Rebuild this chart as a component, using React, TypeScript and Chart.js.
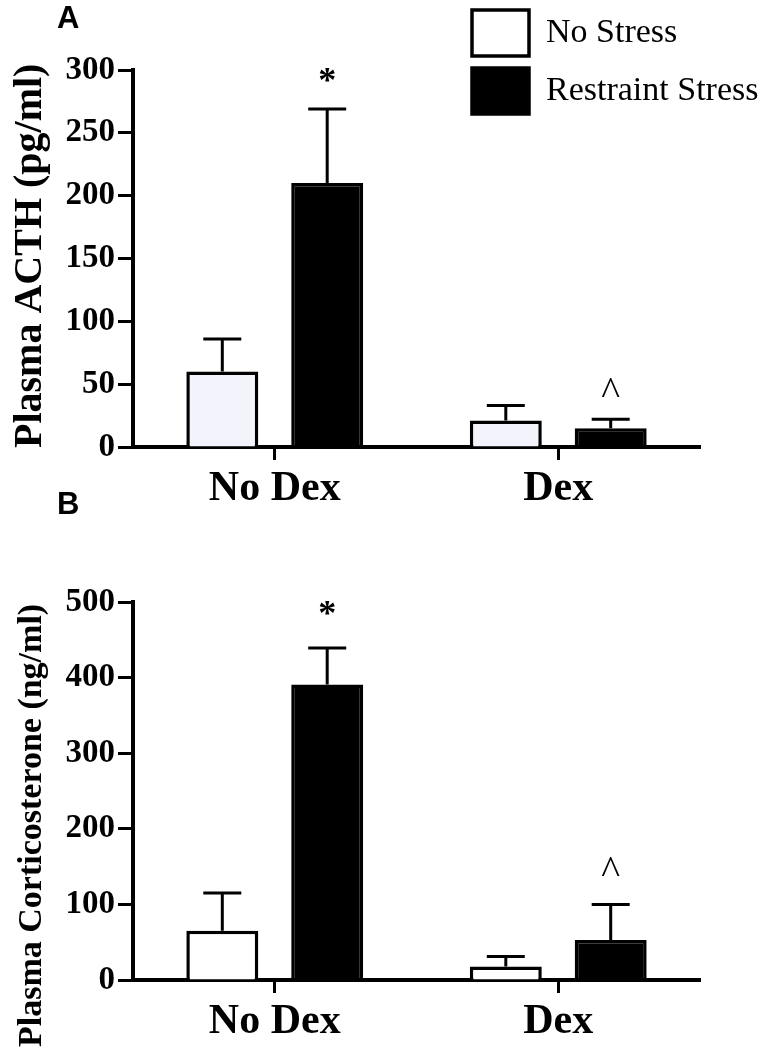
import { useEffect, useRef } from 'react';
import { Chart, registerables } from 'chart.js';

Chart.register(...registerables);

const SERIF = "'Liberation Serif', 'Times New Roman', serif";
const SANS = "'Liberation Sans', Arial, sans-serif";

// ---- data ----
const categories = ['No Dex', 'Dex'];
const seriesNames = ['No Stress', 'Restraint Stress'];

const acthNoStress = [60, 21];
const acthNoStressErr = [26, 12];
const acthRestraint = [210, 15];
const acthRestraintErr = [59, 7];
const acthMarks = ['*', '^'];
const acthMarkValues = [296, 47];

const corticoNoStress = [65, 18];
const corticoNoStressErr = [50, 13];
const corticoRestraint = [391, 53];
const corticoRestraintErr = [48, 47];
const corticoMarks = ['*', '^'];
const corticoMarkValues = [492, 150];

type Spec = {
  letter: string;
  yTitle: string;
  yTitleSize: number;
  yTitleStart: number;
  yMax: number;
  yStep: number;
  noStress: number[];
  noStressErr: number[];
  restraint: number[];
  restraintErr: number[];
  marks: string[];
  markValues: number[];
  noStressFill: string;
  showLegend: boolean;
  padTop: number;
  xHeight: number;
  letterBaseline: number;
};

function makeChart(canvas: HTMLCanvasElement, spec: Spec) {
  const extras = {
    id: 'panelExtras',
    afterLayout(chart: any) {
      if (spec.showLegend && chart.legend) {
        const lg = chart.legend;
        lg.left = 460;
        lg.top = -2;
        lg.right = 768;
        lg.bottom = 300;
        lg.width = 308;
        lg.height = 302;
      }
    },
    afterDatasetsDraw(chart: any) {
      const ctx = chart.ctx as CanvasRenderingContext2D;
      const y = chart.scales.y;
      const errs = [spec.noStressErr, spec.restraintErr];
      ctx.save();
      ctx.strokeStyle = '#000';
      ctx.lineWidth = 3;
      chart.data.datasets.forEach((ds: any, d: number) => {
        const meta = chart.getDatasetMeta(d);
        meta.data.forEach((bar: any, i: number) => {
          const v = ds.data[i] as number;
          const top = y.getPixelForValue(v);
          const end = y.getPixelForValue(v + errs[d][i]);
          ctx.beginPath();
          ctx.moveTo(bar.x, top);
          ctx.lineTo(bar.x, end);
          ctx.moveTo(bar.x - 19, end);
          ctx.lineTo(bar.x + 19, end);
          ctx.stroke();
        });
      });
      const meta = chart.getDatasetMeta(1);
      spec.marks.forEach((m, i) => {
        const bar = meta.data[i];
        const cy = y.getPixelForValue(spec.markValues[i]);
        ctx.font = m === '*' ? `bold 36px ${SERIF}` : `40px ${SERIF}`;
        ctx.fillStyle = '#000';
        ctx.textAlign = 'center';
        ctx.textBaseline = 'alphabetic';
        const mt = ctx.measureText(m);
        const off = (mt.actualBoundingBoxAscent - mt.actualBoundingBoxDescent) / 2;
        ctx.fillText(m, bar.x, cy + off);
      });
      ctx.restore();
    },
    afterDraw(chart: any) {
      const ctx = chart.ctx as CanvasRenderingContext2D;
      ctx.save();
      ctx.fillStyle = '#000';
      ctx.font = `bold ${spec.yTitleSize}px ${SERIF}`;
      ctx.textAlign = 'left';
      ctx.textBaseline = 'alphabetic';
      ctx.translate(41, spec.yTitleStart);
      ctx.rotate(-Math.PI / 2);
      ctx.fillText(spec.yTitle, 0, 0);
      ctx.restore();
      ctx.save();
      ctx.fillStyle = '#000';
      ctx.font = `bold 31px ${SANS}`;
      ctx.textAlign = 'left';
      ctx.textBaseline = 'alphabetic';
      ctx.fillText(spec.letter, 57, spec.letterBaseline);
      ctx.restore();
    },
  };

  return new Chart(canvas, {
    type: 'bar',
    data: {
      labels: categories,
      datasets: [
        {
          label: seriesNames[0],
          data: spec.noStress,
          backgroundColor: spec.noStressFill,
          borderColor: '#000',
          borderWidth: 3.5,
          categoryPercentage: 0.74,
          barPercentage: 0.686,
        },
        {
          label: seriesNames[1],
          data: spec.restraint,
          backgroundColor: '#000',
          borderColor: '#000',
          borderWidth: 3.5,
          categoryPercentage: 0.74,
          barPercentage: 0.686,
        },
      ],
    },
    options: {
      responsive: false,
      animation: false,
      layout: { padding: { top: spec.padTop, right: 68, bottom: 0, left: 0 } },
      plugins: {
        tooltip: { enabled: false },
        title: { display: false },
        legend: {
          display: spec.showLegend,
          position: 'chartArea',
          align: 'start',
          labels: {
            color: '#000',
            font: { family: SERIF, size: 34, weight: 'normal' },
            boxWidth: 57,
            boxHeight: 46,
            padding: 12,
            generateLabels: (chart: any) =>
              (Chart.defaults.plugins.legend.labels as any)
                .generateLabels(chart)
                .map((it: any, i: number) => ({
                  ...it,
                  fillStyle: i === 0 ? '#fff' : '#000',
                  strokeStyle: '#000',
                  lineWidth: 3.5,
                })),
          },
        },
      },
      scales: {
        x: {
          type: 'category',
          offset: true,
          grid: {
            offset: false,
            drawOnChartArea: false,
            drawTicks: true,
            tickLength: 13,
            tickWidth: 3,
            tickColor: '#000',
          },
          border: { display: true, color: '#000', width: 4 },
          ticks: {
            color: '#000',
            font: { family: SERIF, size: 42, weight: 'bold', lineHeight: 1.2 },
            padding: 4,
            maxRotation: 0,
            autoSkip: false,
          },
          afterFit: (s: any) => {
            s.height = spec.xHeight;
          },
        },
        y: {
          min: 0,
          max: spec.yMax,
          grid: {
            drawOnChartArea: false,
            drawTicks: true,
            tickLength: 15,
            tickWidth: 3,
            tickColor: '#000',
          },
          border: { display: true, color: '#000', width: 4 },
          ticks: {
            stepSize: spec.yStep,
            color: '#000',
            font: { family: SERIF, size: 33, weight: 'bold' },
            padding: 3,
          },
          afterFit: (s: any) => {
            s.width = 133;
          },
        },
      },
    },
    plugins: [extras],
  } as any);
}

export default function App() {
  const refA = useRef<HTMLCanvasElement>(null);
  const refB = useRef<HTMLCanvasElement>(null);

  useEffect(() => {
    const a = makeChart(refA.current!, {
      letter: 'A',
      yTitle: 'Plasma ACTH (pg/ml)',
      yTitleSize: 40,
      yTitleStart: 448,
      yMax: 300,
      yStep: 50,
      noStress: acthNoStress,
      noStressErr: acthNoStressErr,
      restraint: acthRestraint,
      restraintErr: acthRestraintErr,
      marks: acthMarks,
      markValues: acthMarkValues,
      noStressFill: '#f3f3fc',
      showLegend: true,
      padTop: 70,
      xHeight: 78,
      letterBaseline: 28,
    });
    const b = makeChart(refB.current!, {
      letter: 'B',
      yTitle: 'Plasma Corticosterone (ng/ml)',
      yTitleSize: 34,
      yTitleStart: 567,
      yMax: 500,
      yStep: 100,
      noStress: corticoNoStress,
      noStressErr: corticoNoStressErr,
      restraint: corticoRestraint,
      restraintErr: corticoRestraintErr,
      marks: corticoMarks,
      markValues: corticoMarkValues,
      noStressFill: '#ffffff',
      showLegend: false,
      padTop: 122,
      xHeight: 70,
      letterBaseline: 34,
    });
    return () => {
      a.destroy();
      b.destroy();
    };
  }, []);

  return (
    <div>
      <canvas
        ref={refA}
        width={768}
        height={525}
        style={{ position: 'absolute', left: 0, top: 0, width: 768, height: 525 }}
      />
      <canvas
        ref={refB}
        width={768}
        height={570}
        style={{ position: 'absolute', left: 0, top: 480, width: 768, height: 570 }}
      />
    </div>
  );
}
